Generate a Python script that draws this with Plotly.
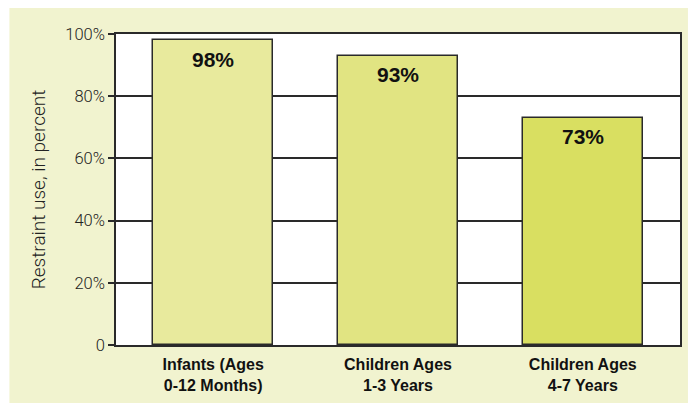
import plotly.graph_objects as go

# Child restraint use by age group
categories = ["Infants (Ages<br>0-12 Months)", "Children Ages<br>1-3 Years", "Children Ages<br>4-7 Years"]
values = [98, 93, 73]
value_labels = ["98%", "93%", "73%"]
bar_colors = ["#e8ea9d", "#e1e482", "#d9df61"]
tick_vals = [0, 20, 40, 60, 80, 100]
tick_text = ["0", "20%", "40%", "60%", "80%", "100%"]

light_font = "Roboto, Liberation Sans, sans-serif"
bold_font = "Liberation Sans, Arial, sans-serif"

fig = go.Figure()
fig.add_trace(go.Bar(
    x=categories,
    y=values,
    width=0.652,
    marker=dict(color=bar_colors, line=dict(color="#2a2a2a", width=1.5)),
    hoverinfo="skip",
))

# Value labels sit just inside the top of each bar
for cat, val, lab in zip(categories, values, value_labels):
    fig.add_annotation(
        x=cat, y=val, text=f"<b>{lab}</b>", showarrow=False,
        yanchor="middle", yshift=-19,
        font=dict(family=bold_font, size=21, color="#111111"),
    )

fig.update_layout(
    width=693, height=407,
    margin=dict(l=116, r=11, t=34, b=62),
    paper_bgcolor="white",
    plot_bgcolor="rgba(0,0,0,0)",
    showlegend=False,
    bargap=0,
    shapes=[
        # light panel behind the whole chart
        dict(type="rect", xref="paper", yref="paper", x0=-0.189, x1=1.0141, y0=-0.1865, y1=1.0836,
             fillcolor="#f1f3cf", line=dict(width=0), layer="below"),
        # white plotting area
        dict(type="rect", xref="paper", yref="paper", x0=0, x1=1, y0=0, y1=1,
             fillcolor="white", line=dict(width=0), layer="below"),
    ],
    xaxis=dict(
        type="category",
        range=[-0.526, 2.526],
        showline=True, linecolor="#2a2a2a", linewidth=1.5, mirror=True,
        showgrid=False, ticks="",
        tickfont=dict(family=bold_font, size=16, color="#111111", weight="bold"),
        ticklabelstandoff=4,
    ),
    yaxis=dict(
        range=[0, 100],
        tickvals=tick_vals, ticktext=tick_text,
        showline=True, linecolor="#2a2a2a", linewidth=1.5, mirror=True,
        showgrid=True, gridcolor="#2a2a2a", gridwidth=1.5,
        zeroline=False,
        ticks="outside", ticklen=6, tickwidth=1.5, tickcolor="#2a2a2a",
        tickfont=dict(family=light_font, size=16.5, color="#222222", weight=300),
        title=dict(text="Restraint use, in percent",
                   font=dict(family=light_font, size=19, color="#222222", weight=300),
                   standoff=15),
    ),
)

fig.write_html("out.html")
